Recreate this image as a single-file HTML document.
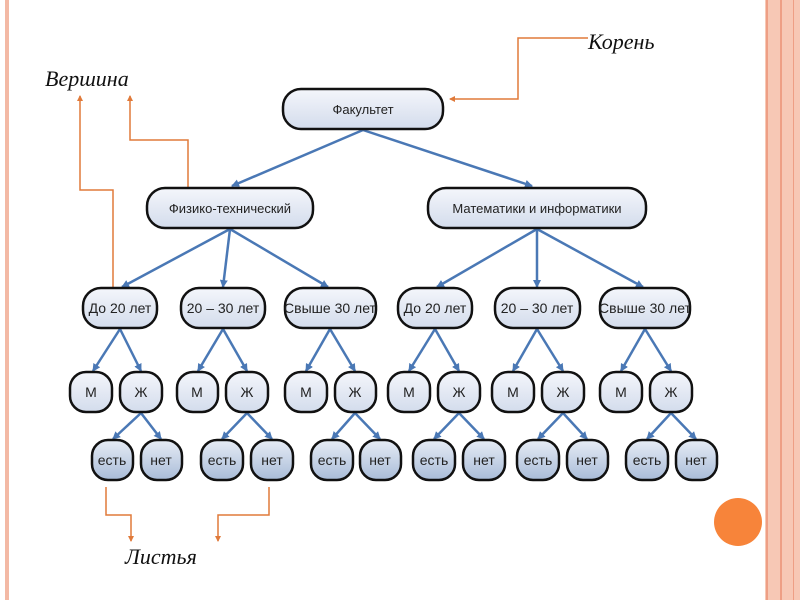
<!DOCTYPE html>
<html><head><meta charset="utf-8"><style>
html,body{margin:0;padding:0;background:#fff;}
svg{display:block;}
text{font-family:"Liberation Sans",sans-serif;}
</style></head><body>
<svg width="800" height="600" viewBox="0 0 800 600" xmlns="http://www.w3.org/2000/svg">
<defs>
<linearGradient id="g1" x1="0" y1="0" x2="0" y2="1"><stop offset="0" stop-color="#f4f6fb"/><stop offset="1" stop-color="#d3dcec"/></linearGradient>
<linearGradient id="g2" x1="0" y1="0" x2="0" y2="1"><stop offset="0" stop-color="#e6ecf5"/><stop offset="1" stop-color="#a9bcd8"/></linearGradient>
<marker id="a" markerWidth="8" markerHeight="8" refX="7" refY="4" orient="auto" markerUnits="userSpaceOnUse"><path d="M0,0 L8,4 L0,8 z" fill="#4a78b5"/></marker>
<marker id="o" markerWidth="6" markerHeight="6" refX="5" refY="3" orient="auto" markerUnits="userSpaceOnUse"><path d="M0,0 L6,3 L0,6 z" fill="#e07a3a"/></marker>
</defs>
<rect x="5" y="0" width="4" height="600" fill="#f3b9a5"/>
<rect x="765" y="0" width="35" height="600" fill="#f7c8b5"/>
<rect x="766" y="0" width="2" height="600" fill="#ee9f85"/>
<rect x="780" y="0" width="2" height="600" fill="#ee9f85"/>
<rect x="793" y="0" width="1" height="600" fill="#ee9f85"/>
<circle cx="738" cy="522" r="24" fill="#f7843a"/>
<g stroke="#4a78b5" stroke-width="2.5" fill="none" marker-end="url(#a)">
<line x1="363" y1="130" x2="232" y2="186"/><line x1="363" y1="130" x2="532" y2="186"/>
<line x1="230" y1="229" x2="122" y2="287"/><line x1="230" y1="229" x2="223" y2="287"/><line x1="230" y1="229" x2="328" y2="287"/>
<line x1="537" y1="229" x2="437" y2="287"/><line x1="537" y1="229" x2="537" y2="287"/><line x1="537" y1="229" x2="643" y2="287"/>
<line x1="120" y1="329" x2="93" y2="371"/><line x1="120" y1="329" x2="141" y2="371"/>
<line x1="223" y1="329" x2="198" y2="371"/><line x1="223" y1="329" x2="247" y2="371"/>
<line x1="330" y1="329" x2="306" y2="371"/><line x1="330" y1="329" x2="355" y2="371"/>
<line x1="435" y1="329" x2="409" y2="371"/><line x1="435" y1="329" x2="459" y2="371"/>
<line x1="537" y1="329" x2="513" y2="371"/><line x1="537" y1="329" x2="563" y2="371"/>
<line x1="645" y1="329" x2="621" y2="371"/><line x1="645" y1="329" x2="671" y2="371"/>
<line x1="141" y1="413" x2="113" y2="439"/><line x1="141" y1="413" x2="161" y2="439"/>
<line x1="247" y1="413" x2="222" y2="439"/><line x1="247" y1="413" x2="272" y2="439"/>
<line x1="355" y1="413" x2="332" y2="439"/><line x1="355" y1="413" x2="380" y2="439"/>
<line x1="459" y1="413" x2="434" y2="439"/><line x1="459" y1="413" x2="484" y2="439"/>
<line x1="563" y1="413" x2="538" y2="439"/><line x1="563" y1="413" x2="587" y2="439"/>
<line x1="671" y1="413" x2="647" y2="439"/><line x1="671" y1="413" x2="696" y2="439"/>
</g>
<g stroke="#e07a3a" stroke-width="1.5" fill="none" marker-end="url(#o)">
<polyline points="113,288 113,190 80,190 80,96"/>
<polyline points="188,188 188,140 130,140 130,96"/>
<polyline points="588,38 518,38 518,99 450,99"/>
<polyline points="106,487 106,515 131,515 131,541"/>
<polyline points="269,487 269,515 218,515 218,541"/>
</g>
<g stroke="#111" stroke-width="2.5">
<rect x="283" y="89" width="160" height="40" rx="18" fill="url(#g1)"/>
<rect x="147" y="188" width="166" height="40" rx="18" fill="url(#g1)"/>
<rect x="428" y="188" width="218" height="40" rx="18" fill="url(#g1)"/>
<rect x="83" y="288" width="74" height="40" rx="18" fill="url(#g1)"/>
<rect x="181" y="288" width="84" height="40" rx="18" fill="url(#g1)"/>
<rect x="285" y="288" width="91" height="40" rx="18" fill="url(#g1)"/>
<rect x="398" y="288" width="74" height="40" rx="18" fill="url(#g1)"/>
<rect x="495" y="288" width="85" height="40" rx="18" fill="url(#g1)"/>
<rect x="600" y="288" width="90" height="40" rx="18" fill="url(#g1)"/>
<g fill="url(#g1)">
<rect x="70" y="372" width="42" height="40" rx="16"/><rect x="120" y="372" width="42" height="40" rx="16"/>
<rect x="177" y="372" width="41" height="40" rx="16"/><rect x="226" y="372" width="42" height="40" rx="16"/>
<rect x="285" y="372" width="42" height="40" rx="16"/><rect x="335" y="372" width="41" height="40" rx="16"/>
<rect x="388" y="372" width="42" height="40" rx="16"/><rect x="438" y="372" width="42" height="40" rx="16"/>
<rect x="492" y="372" width="42" height="40" rx="16"/><rect x="542" y="372" width="42" height="40" rx="16"/>
<rect x="600" y="372" width="42" height="40" rx="16"/><rect x="650" y="372" width="42" height="40" rx="16"/>
</g>
<g fill="url(#g2)">
<rect x="92" y="440" width="41" height="40" rx="16"/><rect x="141" y="440" width="41" height="40" rx="16"/>
<rect x="201" y="440" width="42" height="40" rx="16"/><rect x="251" y="440" width="42" height="40" rx="16"/>
<rect x="311" y="440" width="42" height="40" rx="16"/><rect x="360" y="440" width="41" height="40" rx="16"/>
<rect x="413" y="440" width="42" height="40" rx="16"/><rect x="463" y="440" width="42" height="40" rx="16"/>
<rect x="517" y="440" width="42" height="40" rx="16"/><rect x="567" y="440" width="41" height="40" rx="16"/>
<rect x="626" y="440" width="42" height="40" rx="16"/><rect x="676" y="440" width="41" height="40" rx="16"/>
</g>
</g>
<g font-size="13" fill="#222" text-anchor="middle">
<text x="363" y="114">Факультет</text>
<text x="230" y="213">Физико-технический</text>
<text x="537" y="213">Математики и информатики</text>
<text x="120" y="313" font-size="14">До 20 лет</text>
<text x="223" y="313" font-size="14">20 – 30 лет</text>
<text x="330" y="313" font-size="14">Свыше 30 лет</text>
<text x="435" y="313" font-size="14">До 20 лет</text>
<text x="537" y="313" font-size="14">20 – 30 лет</text>
<text x="645" y="313" font-size="14">Свыше 30 лет</text>
<g font-size="14">
<text x="91" y="397">М</text><text x="141" y="397">Ж</text>
<text x="197" y="397">М</text><text x="247" y="397">Ж</text>
<text x="306" y="397">М</text><text x="355" y="397">Ж</text>
<text x="409" y="397">М</text><text x="459" y="397">Ж</text>
<text x="513" y="397">М</text><text x="563" y="397">Ж</text>
<text x="621" y="397">М</text><text x="671" y="397">Ж</text>
<text x="112" y="465">есть</text><text x="161" y="465">нет</text>
<text x="222" y="465">есть</text><text x="272" y="465">нет</text>
<text x="332" y="465">есть</text><text x="380" y="465">нет</text>
<text x="434" y="465">есть</text><text x="484" y="465">нет</text>
<text x="538" y="465">есть</text><text x="587" y="465">нет</text>
<text x="647" y="465">есть</text><text x="696" y="465">нет</text>
</g>
</g>
<g font-family="Liberation Serif,serif" font-style="italic" font-size="22" fill="#111">
<text x="45" y="86" style="font-family:'Liberation Serif',serif">Вершина</text>
<text x="588" y="49" style="font-family:'Liberation Serif',serif">Корень</text>
<text x="125" y="564" style="font-family:'Liberation Serif',serif">Листья</text>
</g>
</svg>
</body></html>
